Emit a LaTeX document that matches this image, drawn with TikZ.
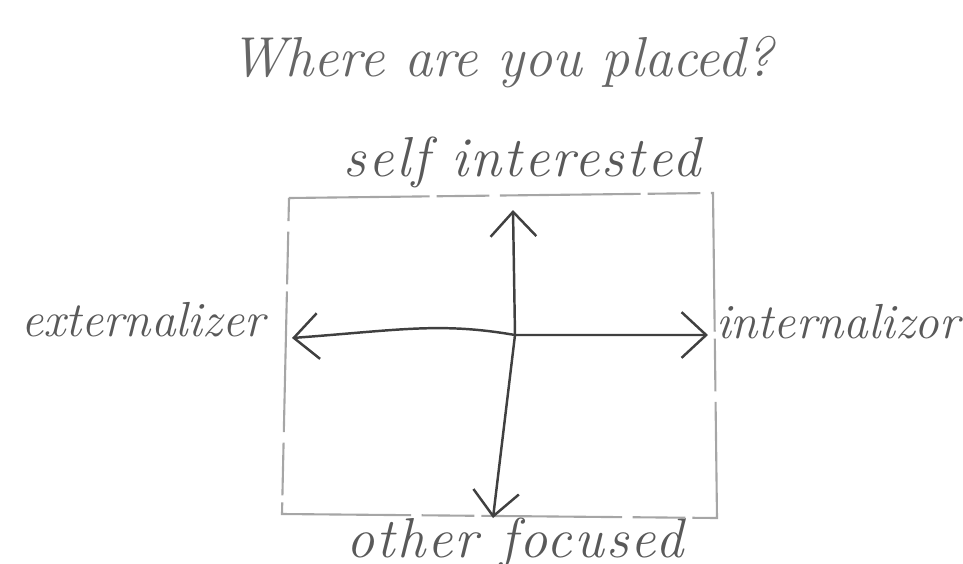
\documentclass[tikz,border=0pt]{standalone}
\usepackage{fontspec}
\usetikzlibrary{positioning, arrows.meta}
\newfontfamily\handfont[LetterSpace=4]{Latin Modern Roman}

\begin{document}
\begin{tikzpicture}[x=0.01cm, y=-0.01cm,
    pencil/.style={draw=black!75, line width=0.7pt, line cap=round, line join=round},
    frame/.style={draw=black!35, line width=0.6pt, dash pattern=on 40pt off 2pt on 15pt off 3pt},
    hand/.style={text=black!65, font=\handfont\itshape\fontsize{16}{19}\selectfont},
    side/.style={text=black!65, font=\itshape\fontsize{14}{17}\selectfont},
    barbs/.style={{Straight Barb[length=7pt,width=13pt]}-{Straight Barb[length=7pt,width=13pt]}}]

    \useasboundingbox (0,0) rectangle (963,563);

    % labels
    \node[text=black!60, font=\itshape\fontsize{16}{19}\selectfont] (title) at (502,62) {Where are you placed?};
    \node[hand] (self) at (522,162) {self interested};
    \node[hand] (other) at (515,543) {other focused};
    \node[side] (ext) at (143,320) {externalizer};
    \node[side] (int) at (838,322) {internalizor};

    % the frame
    \coordinate (tl) at (289,198);
    \coordinate (tr) at (713,193);
    \coordinate (br) at (717,518);
    \coordinate (bl) at (282,514);
    \draw[frame] (tl) -- (tr) -- (br) -- (bl) -- cycle;

    % the axes
    \coordinate (mid) at (515,335);
    \coordinate (up) at (513,210);
    \coordinate (down) at (493,518);
    \coordinate (left) at (292,338);
    \coordinate (right) at (708,335);
    \draw[pencil, barbs] (up) -- (mid) -- (down);
    \draw[pencil, barbs] (left) .. controls (400,330) and (440,322) .. (mid) -- (right);

\end{tikzpicture}
\end{document}
